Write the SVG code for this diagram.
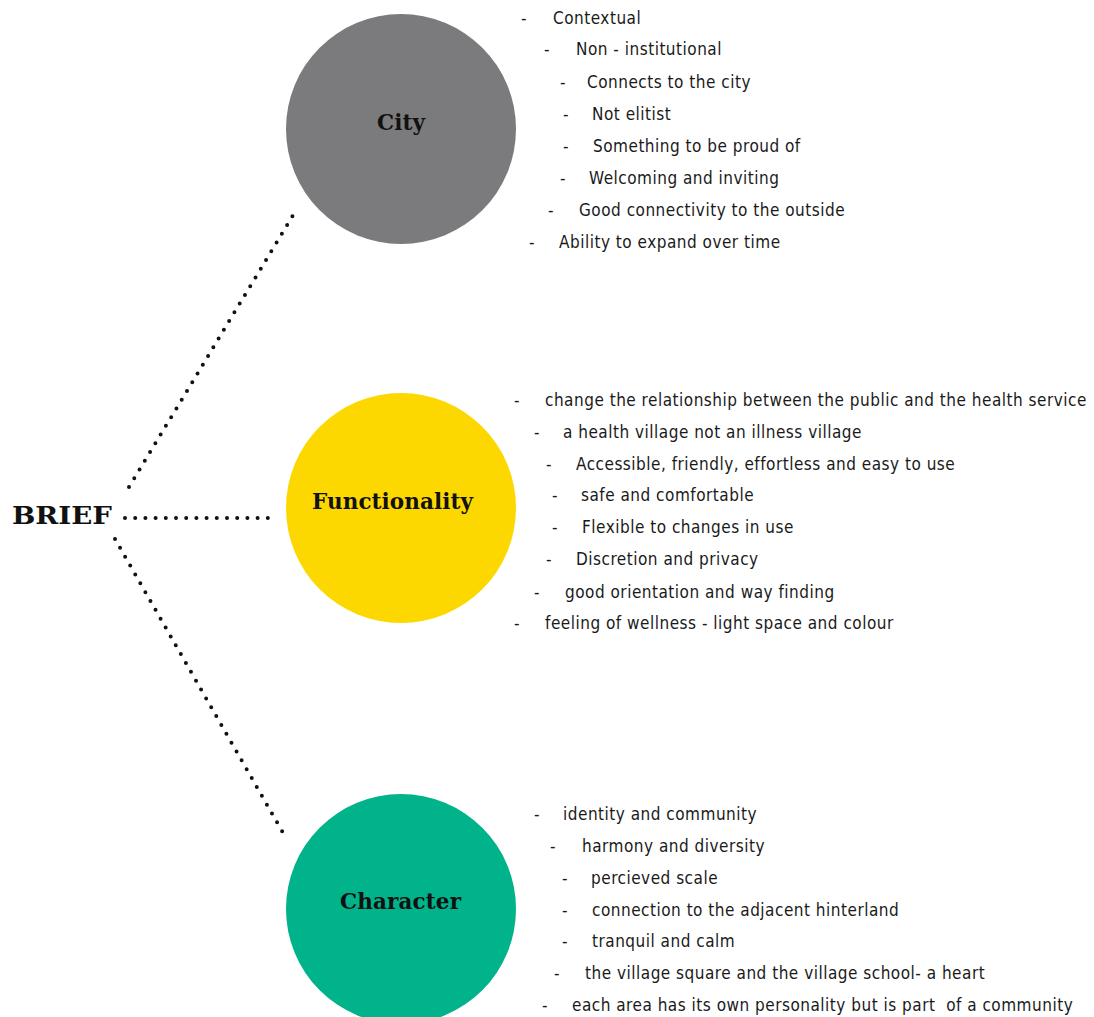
<svg xmlns="http://www.w3.org/2000/svg" width="1094" height="1017" viewBox="0 0 1094 1017">
<style>
.bg{fill:#ffffff}
.lbl{font-family:"DejaVu Serif","Liberation Serif",serif;font-weight:bold;font-size:21.5px;fill:#111}
.brief{font-family:"DejaVu Serif","Liberation Serif",serif;font-weight:bold;font-size:24px;fill:#111}
.it{font-family:"DejaVu Sans Condensed","DejaVu Sans",sans-serif;font-stretch:condensed;font-size:17px;letter-spacing:0.5px;fill:#1a1a1a}
.dot{fill:none;stroke:#111;stroke-width:4;stroke-linecap:round;stroke-dasharray:0 10.2}
</style>
<rect class="bg" x="0" y="0" width="1094" height="1017"/>
<g id="connectors">
<path class="dot" d="M129 487 L295 212"/>
<path class="dot" d="M125 518 L268 518"/>
<path class="dot" d="M115 539 L286 838"/>
</g>
<g id="brief"><text class="brief" x="12" y="524" textLength="100" lengthAdjust="spacingAndGlyphs">BRIEF</text></g>
<g id="city">
<circle cx="401" cy="129" r="115" fill="#7b7b7d"/>
<text class="lbl" x="377" y="130" textLength="48">City</text>
</g>
<g id="functionality">
<circle cx="401" cy="508" r="115" fill="#fcd800"/>
<text class="lbl" x="312" y="509" textLength="161">Functionality</text>
</g>
<g id="character">
<circle cx="401" cy="909" r="115" fill="#00b38b"/>
<text class="lbl" x="340" y="909" textLength="121">Character</text>
</g>
<g id="city-list">
<text class="it" x="521" y="24">-</text><text class="it" x="553" y="24">Contextual</text>
<text class="it" x="544" y="55">-</text><text class="it" x="576" y="55">Non - institutional</text>
<text class="it" x="560" y="88">-</text><text class="it" x="587" y="88">Connects to the city</text>
<text class="it" x="563" y="120">-</text><text class="it" x="592" y="120">Not elitist</text>
<text class="it" x="563" y="152">-</text><text class="it" x="593" y="152">Something to be proud of</text>
<text class="it" x="560" y="184">-</text><text class="it" x="589" y="184">Welcoming and inviting</text>
<text class="it" x="548" y="216">-</text><text class="it" x="579" y="216">Good connectivity to the outside</text>
<text class="it" x="529" y="248">-</text><text class="it" x="559" y="248">Ability to expand over time</text>
</g>
<g id="functionality-list">
<text class="it" x="514" y="406">-</text><text class="it" x="545" y="406">change the relationship between the public and the health service</text>
<text class="it" x="534" y="438">-</text><text class="it" x="563" y="438">a health village not an illness village</text>
<text class="it" x="546" y="470">-</text><text class="it" x="576" y="470">Accessible, friendly, effortless and easy to use</text>
<text class="it" x="552" y="501">-</text><text class="it" x="581" y="501">safe and comfortable</text>
<text class="it" x="552" y="533">-</text><text class="it" x="582" y="533">Flexible to changes in use</text>
<text class="it" x="546" y="565">-</text><text class="it" x="576" y="565">Discretion and privacy</text>
<text class="it" x="534" y="598">-</text><text class="it" x="565" y="598">good orientation and way finding</text>
<text class="it" x="514" y="629">-</text><text class="it" x="545" y="629">feeling of wellness - light space and colour</text>
</g>
<g id="character-list">
<text class="it" x="534" y="820">-</text><text class="it" x="563" y="820">identity and community</text>
<text class="it" x="550" y="852">-</text><text class="it" x="582" y="852">harmony and diversity</text>
<text class="it" x="562" y="884">-</text><text class="it" x="591" y="884">percieved scale</text>
<text class="it" x="562" y="916">-</text><text class="it" x="592" y="916">connection to the adjacent hinterland</text>
<text class="it" x="562" y="947">-</text><text class="it" x="592" y="947">tranquil and calm</text>
<text class="it" x="554" y="979">-</text><text class="it" x="585" y="979">the village square and the village school- a heart</text>
<text class="it" x="542" y="1011">-</text><text class="it" x="572" y="1011" xml:space="preserve">each area has its own personality but is part  of a community</text>
</g>
</svg>
